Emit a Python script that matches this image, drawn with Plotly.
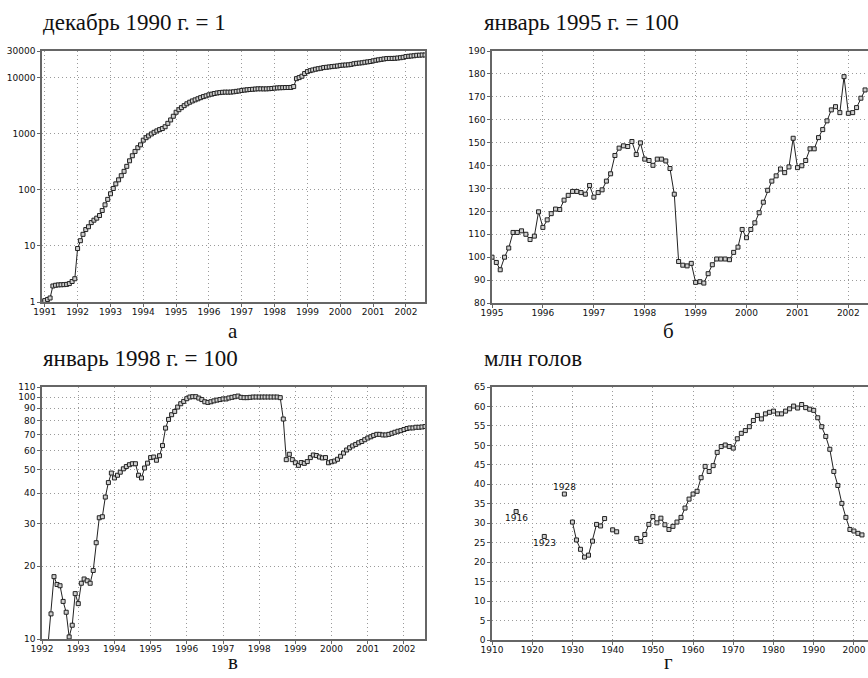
import plotly.graph_objects as go
import pandas as pd

W, H = 868, 678

# ---------------- data ----------------
# (а) consumer prices, December 1990 = 1, monthly from Dec 1990
a_start = "1990-12-01"
a_vals = [
    1.0,
    1.06, 1.11, 1.18, 1.93, 1.99, 2.02, 2.03, 2.04, 2.06, 2.13, 2.32, 2.60,
    8.99, 12.4, 16.1, 19.6, 22.0, 26.1, 28.8, 31.3, 34.9, 42.9, 54.1, 67.7,
    85.2, 106, 128, 151, 179, 214, 263, 330, 406, 485, 565, 636,
    770, 853, 917, 994, 1063, 1127, 1187, 1241, 1337, 1537, 1768, 2058,
    2424, 2691, 2930, 3179, 3430, 3660, 3858, 4035, 4217, 4415, 4613, 4761,
    4956, 5095, 5237, 5353, 5438, 5504, 5542, 5531, 5547, 5614, 5720, 5800,
    5934, 6023, 6107, 6168, 6224, 6292, 6349, 6343, 6324, 6336, 6374, 6438,
    6535, 6593, 6633, 6659, 6693, 6699, 6713, 6961, 9634, 10068, 10642, 11876,
    12874, 13402, 13777, 14190, 14502, 14778, 15192, 15374, 15605, 15823, 16013, 16221,
    16594, 16760, 16861, 17013, 17319, 17769, 18089, 18270, 18508, 18896, 19180, 19487,
    20033, 20494, 20883, 21259, 21642, 21988, 22098, 22098, 22231, 22475, 22790, 23154,
    23872, 24158, 24424, 24717, 25137, 25263, 25440, 25465,
]
a_years = list(range(1991, 2003))
a_yticks = [1, 10, 100, 1000, 10000, 30000]

# (б) January 1995 = 100, monthly from Jan 1995
b_start = "1995-01-01"
b_vals = [
    100, 97.7, 94.5, 100, 104, 110.8, 110.8, 111.5, 110, 107.7, 109.2, 119.8,
    113, 116.3, 119, 121, 120.8, 124.9, 127, 128.7, 128.7, 128.2, 127.5, 131.3,
    126.2, 128.2, 129.4, 133.2, 136.4, 144.4, 147.6, 148.6, 148.3, 150.5, 144.8, 149.9,
    142.8, 142.2, 140.1, 142.8, 142.8, 142.0, 138.7, 127.5, 98.1, 96.5, 96.2, 97.3,
    89.0, 89.3, 88.7, 92.8, 96.7, 99.2, 99.2, 99.2, 98.9, 102.1, 104.4, 112.1,
    108.5, 112.1, 115.0, 119.4, 124.0, 129.2, 133.2, 135.5, 138.5, 136.9, 139.4, 151.9,
    139.1, 139.9, 142.2, 147.3, 147.3, 152.2, 155.7, 159.5, 164.3, 165.7, 163.1, 178.8,
    162.8, 163.1, 165.3, 169.4, 173.0,
]
b_years = list(range(1995, 2003))

# (в) January 1998 = 100, monthly from Mar 1992
c_start = "1992-03-01"
c_vals = [
    9.4, 12.7, 18.1, 16.8, 16.6, 14.3, 12.9, 10.2, 11.4, 15.4,
    14.0, 17.0, 17.7, 17.4, 17.0, 19.2, 25.0, 31.7, 32.0, 38.6, 44.3, 48.5,
    46.3, 47.5, 48.9, 50.5, 51.6, 52.5, 53.0, 53.0, 47.5, 46.3, 50.9, 53.3,
    56.2, 56.5, 54.8, 57.2, 63.0, 74.4, 80.8, 84.5, 87.2, 90.9, 93.8, 95.9,
    98.4, 100.0, 100.3, 100.3, 99.0, 97.6, 95.6, 95.0, 95.6, 96.4, 97.1, 97.6,
    98.2, 98.2, 99.1, 99.7, 100.3, 100.9, 99.7, 99.4, 99.4, 99.7, 100.0, 100.0,
    100.0, 100.0, 100.0, 100.0, 100.0, 100.0, 100.0, 99.4, 81.1, 55.1, 58.0, 55.1,
    53.5, 52.2, 53.6, 53.2, 54.1, 56.2, 57.6, 57.3, 56.5, 56.0, 56.2, 53.5,
    54.0, 54.4, 55.3, 56.9, 58.7, 60.4, 61.7, 62.8, 63.7, 64.7, 65.5, 66.6,
    67.7, 68.5, 69.4, 70.1, 70.1, 69.7, 69.7, 70.1, 70.8, 71.5, 72.2, 72.6,
    73.4, 74.1, 74.5, 74.5, 75.0, 75.0, 75.2, 75.5,
]
c_years = list(range(1992, 2003))
c_yticks = [10, 20, 30, 40, 50, 60, 70, 80, 90, 100, 110]

# (г) cattle, million head, by year 1916-2002 (None = no data)
d_years = list(range(1916, 2003))
d_vals = [
    33.0, None, None, None, None, None, None, 26.6, None, None,     # 1916-1925
    None, None, 37.5, None, 30.3, 25.7, 23.3, 21.3, 21.8, 25.4,     # 1926-1935
    29.7, 29.3, 31.2, None, 28.3, 27.8, None, None, None, None,     # 1936-1945
    26.1, 25.3, 27.1, 29.7, 31.7, 30.1, 31.3, 29.6, 28.4, 29.2,     # 1946-1955
    30.3, 31.5, 33.9, 36.2, 37.5, 38.2, 41.7, 44.6, 43.3, 44.8,     # 1956-1965
    48.2, 49.7, 50.1, 49.7, 49.3, 51.7, 53.1, 53.8, 54.8, 56.4,     # 1966-1975
    57.7, 56.8, 58.1, 58.5, 58.8, 58.1, 58.1, 58.8, 59.4, 60.1,     # 1976-1985
    59.6, 60.5, 59.7, 59.3, 59.0, 57.1, 54.8, 52.3, 49.0, 43.3,     # 1986-1995
    39.7, 35.1, 31.5, 28.4, 28.0, 27.4, 27.0,                       # 1996-2002
]
d_labels = ["1916", "1923", "1928"]
d_ticks = list(range(1910, 2001, 10))

titles = ["декабрь 1990 г. = 1", "январь 1995 г. = 100",
          "январь 1998 г. = 100", "млн голов"]
letters = ["а", "б", "в", "г"]

# ---------------- figure ----------------
def xd(x0, x1):
    return [x0 / W, min(x1 / W, 1.0)]

def yd(top, bottom):
    return [1 - bottom / H, 1 - top / H]

line_style = dict(color="#222", width=1)
marker_style = dict(symbol="square", size=4, color="#cfcfcf",
                    line=dict(color="#222", width=1))

tickfont = dict(family="DejaVu Sans", size=9, color="#111")
axis_common = dict(showline=True, linecolor="#666", linewidth=1.5,
                   ticks="outside", ticklen=3, tickcolor="#666",
                   showgrid=True, gridcolor="#9a9a9a", griddash="1px,3px", gridwidth=1,
                   zeroline=False, tickfont=tickfont)

fig = go.Figure()

a_dates = pd.date_range(a_start, periods=len(a_vals), freq="MS")
b_dates = pd.date_range(b_start, periods=len(b_vals), freq="MS")
c_dates = pd.date_range(c_start, periods=len(c_vals), freq="MS")

fig.add_trace(go.Scatter(x=a_dates, y=a_vals, mode="lines+markers",
                         line=line_style, marker=marker_style,
                         xaxis="x", yaxis="y", showlegend=False))
fig.add_trace(go.Scatter(x=b_dates, y=b_vals, mode="lines+markers",
                         line=line_style, marker=marker_style,
                         xaxis="x2", yaxis="y2", showlegend=False))
fig.add_trace(go.Scatter(x=c_dates, y=c_vals, mode="lines+markers",
                         line=line_style, marker=marker_style,
                         xaxis="x3", yaxis="y3", showlegend=False))
fig.add_trace(go.Scatter(x=d_years, y=d_vals, mode="lines+markers",
                         line=line_style, marker=marker_style, connectgaps=False,
                         xaxis="x4", yaxis="y4", showlegend=False))

def yr_ticks(years):
    return [f"{y}-01-01" for y in years], [str(y) for y in years]

atv, att = yr_ticks(a_years)
btv, btt = yr_ticks(b_years)
ctv, ctt = yr_ticks(c_years)

xstand = dict(ticklabelstandoff=-3)

fig.update_layout(
    width=W, height=H,
    margin=dict(l=0, r=0, t=0, b=0, autoexpand=False),
    paper_bgcolor="white", plot_bgcolor="white",
    xaxis=dict(axis_common, **xstand, domain=xd(42, 425), anchor="y", mirror=True,
               type="date", range=["1990-12-01", "2002-08-01"],
               tickmode="array", tickvals=atv, ticktext=att),
    yaxis=dict(axis_common, domain=yd(51, 302), anchor="x", mirror=True,
               type="log", range=[0, 4.4771],
               tickmode="array", tickvals=a_yticks,
               ticktext=[str(v) for v in a_yticks]),
    xaxis2=dict(axis_common, **xstand, domain=xd(492, 868), anchor="y2", mirror=True,
                type="date", range=["1995-01-01", "2002-05-22"],
                tickmode="array", tickvals=btv, ticktext=btt),
    yaxis2=dict(axis_common, domain=yd(51, 303), anchor="x2", mirror=False,
                range=[80, 190], dtick=10, tick0=80),
    xaxis3=dict(axis_common, **xstand, domain=xd(42, 425), anchor="y3", mirror=True,
                type="date", range=["1992-01-01", "2002-08-01"],
                tickmode="array", tickvals=ctv, ticktext=ctt),
    yaxis3=dict(axis_common, domain=yd(387, 639), anchor="x3", mirror=True,
                type="log", range=[1, 2.0414],
                tickmode="array", tickvals=c_yticks,
                ticktext=[str(v) for v in c_yticks]),
    xaxis4=dict(axis_common, **xstand, domain=xd(492, 868), anchor="y4", mirror=True,
                range=[1910, 2003.5], tickmode="array", tickvals=d_ticks,
                ticktext=[str(v) for v in d_ticks]),
    yaxis4=dict(axis_common, domain=yd(387, 640), anchor="x4", mirror=False,
                range=[0, 65], dtick=5, tick0=0),
)

serif = dict(family="Liberation Serif", size=23, color="#111")
annotations = []
title_pos = [(41, 22), (482, 22), (41, 358), (482, 358)]
for t, (px, py) in zip(titles, title_pos):
    annotations.append(dict(text=t, x=px / W, y=1 - py / H, xref="paper", yref="paper",
                            xanchor="left", yanchor="middle", showarrow=False, font=serif))
letter_pos = [(233, 331), (668, 331), (233, 662), (668, 662)]
for t, (px, py) in zip(letters, letter_pos):
    annotations.append(dict(text=t, x=px / W, y=1 - py / H, xref="paper", yref="paper",
                            xanchor="center", yanchor="middle", showarrow=False,
                            font=dict(family="Liberation Serif", size=21, color="#111")))

# point labels on panel г
label_offsets = [(0, 31.3), (0, 24.9), (0, 39.4)]
for lab, (dx, yy) in zip(d_labels, label_offsets):
    annotations.append(dict(text=lab, x=int(lab) + dx, y=yy, xref="x4", yref="y4",
                            showarrow=False, xanchor="center", yanchor="middle",
                            font=dict(family="DejaVu Sans", size=9, color="#111")))
fig.update_layout(annotations=annotations)

fig.write_html("out.html", config={"displayModeBar": False},
               post_script="document.body.style.margin='0';")

# make sure the page has no body margin from the very start
with open("out.html", "r", encoding="utf-8") as f:
    html = f.read()
html = html.replace("<body>", '<body style="margin:0;padding:0;overflow:hidden">', 1)
with open("out.html", "w", encoding="utf-8") as f:
    f.write(html)
